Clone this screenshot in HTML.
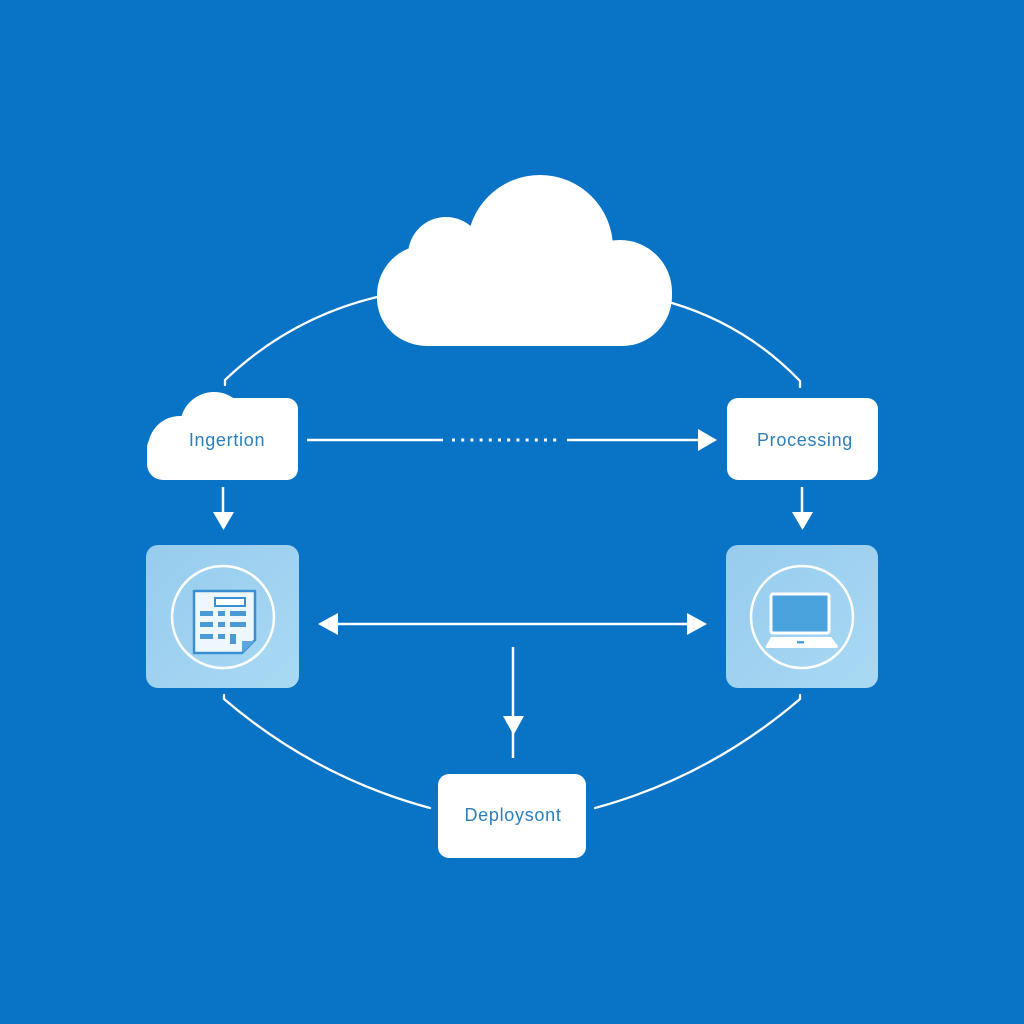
<!DOCTYPE html>
<html>
<head>
<meta charset="utf-8">
<style>
  html,body{margin:0;padding:0;background:#0973c6;}
  body{width:1024px;height:1024px;overflow:hidden;}
  svg{display:block;}
  .lbl{font-family:"Liberation Sans",sans-serif;font-size:18px;fill:#2b7fb9;letter-spacing:0.7px;}
</style>
</head>
<body>
<svg width="1024" height="1024" viewBox="0 0 1024 1024" xmlns="http://www.w3.org/2000/svg">
  <defs>
    <linearGradient id="lb" x1="0" y1="0" x2="1" y2="1">
      <stop offset="0" stop-color="#97ccee"/>
      <stop offset="1" stop-color="#a9d9f3"/>
    </linearGradient>
  </defs>
  <rect x="0" y="0" width="1024" height="1024" fill="#0973c6"/>

  <!-- arcs -->
  <g fill="none" stroke="#ffffff" stroke-width="2.3" stroke-linecap="round">
    <path d="M225,385 L225,380 Q290,318 377,297"/>
    <path d="M672,303 Q746,325 800,381 L800,387"/>
    <path d="M224,695 L224,699 Q315,777 430,808"/>
    <path d="M800,695 L800,699 Q709,777 595,808"/>
  </g>

  <!-- main cloud -->
  <g fill="#ffffff">
    <rect x="377" y="245" width="295" height="101" rx="50"/>
    <circle cx="540" cy="248" r="73"/>
    <circle cx="446" cy="255" r="38"/>
    <circle cx="620" cy="292" r="52"/>
    <circle cx="424" cy="298" r="47"/>
  </g>

  <!-- Ingertion cloud node -->
  <g fill="#ffffff">
    <rect x="147" y="432" width="110" height="48" rx="16"/>
    <rect x="205" y="398" width="93" height="82" rx="11"/>
    <circle cx="214" cy="426" r="34"/>
    <circle cx="180" cy="448" r="32"/>
  </g>
  <text class="lbl" x="227" y="446" text-anchor="middle">Ingertion</text>

  <!-- Processing node -->
  <rect x="727" y="398" width="151" height="82" rx="11" fill="#ffffff"/>
  <text class="lbl" x="805" y="446" text-anchor="middle">Processing</text>

  <!-- Ingertion -> Processing arrow -->
  <g stroke="#ffffff" stroke-width="2.5">
    <line x1="307" y1="440" x2="443" y2="440"/>
    <line x1="452" y1="440" x2="562" y2="440" stroke-width="3" stroke-dasharray="3,6.2" stroke-linecap="butt"/>
    <line x1="567" y1="440" x2="702" y2="440"/>
  </g>
  <polygon points="698,429 717,440 698,451" fill="#ffffff"/>

  <!-- down arrows -->
  <g stroke="#ffffff" stroke-width="2.5">
    <line x1="223" y1="487" x2="223" y2="514"/>
    <line x1="802" y1="487" x2="802" y2="514"/>
  </g>
  <polygon points="213,512 234,512 223.5,530" fill="#ffffff"/>
  <polygon points="792,512 813,512 802.5,530" fill="#ffffff"/>

  <!-- left light box -->
  <rect x="146" y="545" width="153" height="143" rx="12" fill="url(#lb)"/>
  <circle cx="223" cy="617" r="51" fill="none" stroke="#ffffff" stroke-width="2.5"/>
  <!-- spreadsheet icon -->
  <path d="M194,591 L255,591 L255,640 L242,653 L194,653 Z" fill="#eef7fd" stroke="#3a8fd2" stroke-width="2.5" stroke-linejoin="round"/>
  <path d="M242,653 L242,641 L255,641 Z" fill="#5aa6de"/>
  <rect x="215" y="598" width="30" height="8" fill="#ffffff" stroke="#3a8fd2" stroke-width="2"/>
  <g fill="#4a9ad6">
    <rect x="200" y="611" width="13" height="5"/>
    <rect x="218" y="611" width="7" height="5"/>
    <rect x="230" y="611" width="16" height="5"/>
    <rect x="200" y="622" width="13" height="5"/>
    <rect x="218" y="622" width="7" height="5"/>
    <rect x="230" y="622" width="16" height="5"/>
    <rect x="200" y="634" width="13" height="5"/>
    <rect x="218" y="634" width="7" height="5"/>
    <rect x="230" y="634" width="6" height="10"/>
  </g>

  <!-- right light box -->
  <rect x="726" y="545" width="152" height="143" rx="12" fill="url(#lb)"/>
  <circle cx="802" cy="617" r="51" fill="none" stroke="#ffffff" stroke-width="2.5"/>
  <!-- laptop icon -->
  <rect x="771" y="594" width="58" height="39" rx="2" fill="#4aa3dc" stroke="#ffffff" stroke-width="3"/>
  <path d="M771,637 L831,637 L838,646 Q838,648 836,648 L767,648 Q765,648 766,646 Z" fill="#ffffff"/>
  <rect x="797" y="641" width="7" height="2.5" fill="#4aa3dc"/>

  <!-- double arrow -->
  <line x1="334" y1="624" x2="692" y2="624" stroke="#ffffff" stroke-width="2.5"/>
  <polygon points="318,624 338,613 338,635" fill="#ffffff"/>
  <polygon points="707,624 687,613 687,635" fill="#ffffff"/>

  <!-- vertical arrow to deploy -->
  <line x1="513" y1="647" x2="513" y2="758" stroke="#ffffff" stroke-width="2.5"/>
  <polygon points="503,716 524,716 513.5,735" fill="#ffffff"/>

  <!-- Deploysont node -->
  <rect x="438" y="774" width="148" height="84" rx="11" fill="#ffffff"/>
  <text class="lbl" x="513" y="821" text-anchor="middle">Deploysont</text>
</svg>
</body>
</html>
